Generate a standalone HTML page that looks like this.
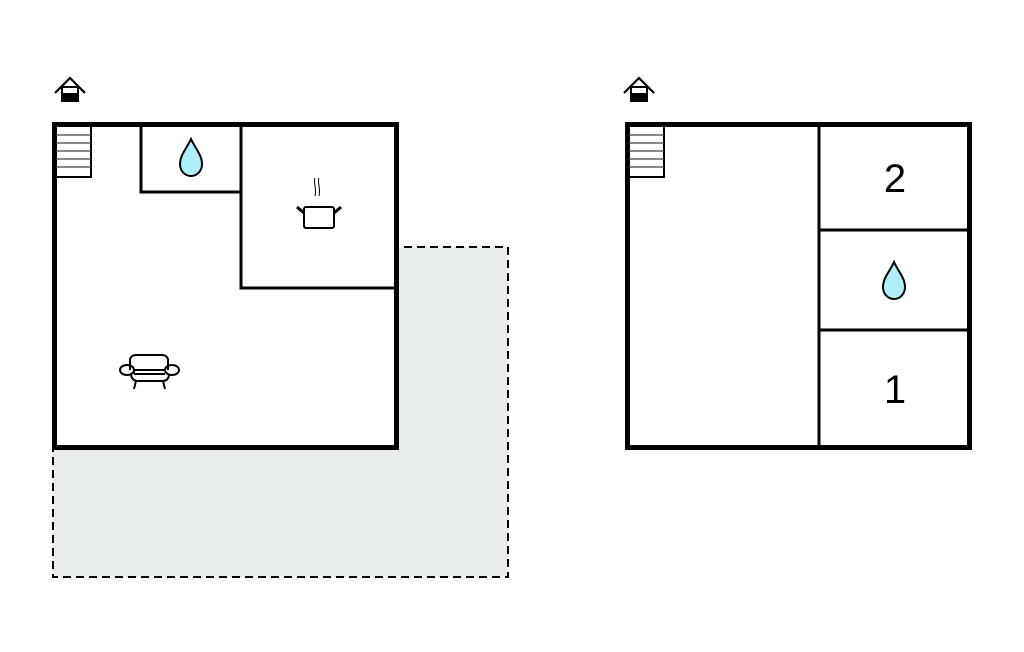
<!DOCTYPE html>
<html><head><style>body{margin:0;background:#fff}</style></head><body>
<svg width="1024" height="652" xmlns="http://www.w3.org/2000/svg" style="display:block">
<defs>
<g id="house"><path d="M-15,3 L0,-12 L15,3" fill="none" stroke="#000" stroke-width="2.2"/><rect x="-8" y="-3" width="16" height="14" fill="#fff" stroke="#000" stroke-width="2"/><rect x="-8" y="3" width="16" height="8" fill="#000"/></g>
<g id="stairs"><rect x="0" y="0" width="35" height="51" fill="#fff" stroke="#000" stroke-width="2"/><path d="M0,9H35M0,17H35M0,25H35M0,33H35M0,41H35" stroke="#444" stroke-width="1.2"/></g>
<g id="drop"><path d="M0,-19 C4,-10 11,-3 11,6 C11,13 6,18 0,18 C-6,18 -11,13 -11,6 C-11,-3 -4,-10 0,-19Z" fill="#aef0f8" stroke="#000" stroke-width="2"/></g>
</defs>
<rect x="53" y="247" width="455" height="330" fill="#e9ecec" stroke="#000" stroke-width="2" stroke-dasharray="8,5"/>
<rect x="54.5" y="124.5" width="342" height="323" fill="#fff" stroke="#000" stroke-width="5"/>
<use href="#stairs" x="56" y="126"/>
<path d="M141,125V192H241M241,125V288H396" fill="none" stroke="#000" stroke-width="3"/>
<use href="#drop" x="191" y="158"/>
<g fill="none" stroke="#000" stroke-width="2">
<rect x="304" y="207" width="30" height="21" rx="2"/><path d="M304,213L297,207M334,213L341,207" stroke-width="3"/>
<path d="M315,178c-2,5 2,10 0,18M319,178c-2,5 2,10 0,18" stroke-width="1"/>
<path d="M130,370v-10c0-3 3-5 6-5h26c3 0 6 2 6 5v10"/><ellipse cx="127" cy="370" rx="7" ry="5"/><ellipse cx="172" cy="370" rx="7" ry="5"/>
<path d="M134,374h31M131,374c0,5 4,7 6,7h26c3 0 6-2 6-7M136,381l-2,8M163,381l2,8M134,374c0-2 0-3 0-4M134,370h30"/>
</g>
<use href="#house" x="70" y="90"/>
<rect x="627.5" y="124.5" width="342" height="323" fill="#fff" stroke="#000" stroke-width="5"/>
<use href="#stairs" x="629" y="126"/>
<path d="M819,125V447M819,230H969M819,330H969" stroke="#000" stroke-width="3"/>
<use href="#drop" x="894" y="281"/>
<text x="895" y="192" font-family="Liberation Sans,sans-serif" font-size="40" text-anchor="middle">2</text>
<text x="895" y="403" font-family="Liberation Sans,sans-serif" font-size="40" text-anchor="middle">1</text>
<use href="#house" x="639" y="90"/>
</svg>
</body></html>
